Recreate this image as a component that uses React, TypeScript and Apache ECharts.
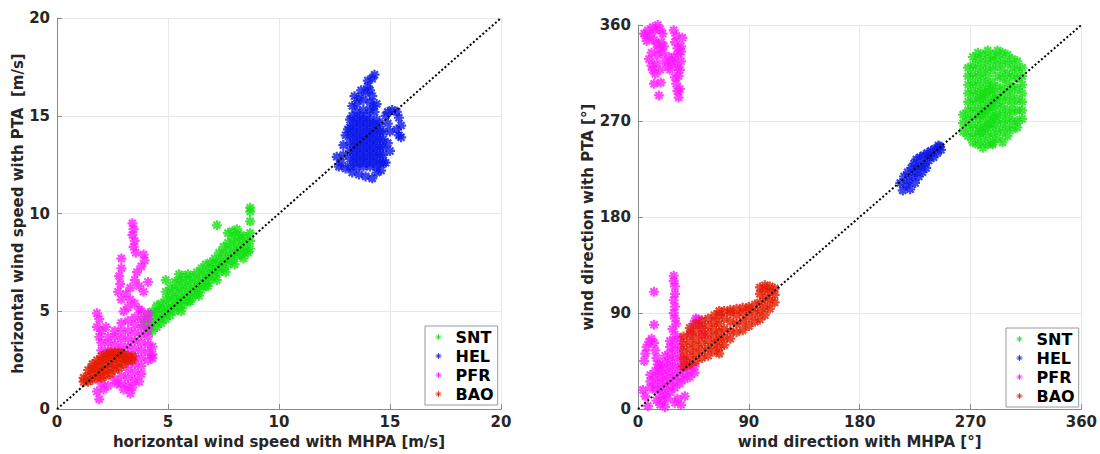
import React, { useEffect, useRef } from "react";
import * as echarts from "echarts";

const SERIES_NAMES = ["SNT", "HEL", "PFR", "BAO"];
const COLORS = ["#12e012", "#0a16e8", "#ff18ff", "#e41a00"];

const SPEED_TICKS = [0, 5, 10, 15, 20];
const DIR_TICKS = [0, 90, 180, 270, 360];

// ---- horizontal wind speed [m/s]: [MHPA, PTA]
const sntSpeed: number[][] = [
  [3.9, 4.3], [3.9, 4.6], [4.1, 4.0], [4.1, 4.4], [4.1, 4.8], [4.3, 4.0], [4.3, 4.4], [4.3, 4.8], [4.3, 5.0],
  [4.5, 4.2], [4.5, 4.6], [4.5, 5.0], [4.5, 5.3], [4.7, 4.4], [4.7, 4.7], [4.7, 5.1], [4.7, 5.4],
  [4.9, 4.6], [4.9, 4.9], [4.9, 5.2], [4.9, 5.6], [4.9, 6.0], [4.9, 6.6],
  [5.1, 4.8], [5.1, 5.1], [5.1, 5.4], [5.1, 5.8], [5.1, 6.2], [5.3, 5.0], [5.3, 5.3], [5.3, 5.7], [5.3, 6.1], [5.3, 6.5],
  [5.5, 5.2], [5.5, 5.5], [5.5, 5.8], [5.5, 6.2], [5.5, 6.6], [5.5, 6.9], [5.7, 5.3], [5.7, 5.6], [5.7, 6.0], [5.7, 6.4], [5.7, 6.8],
  [5.9, 5.5], [5.9, 5.8], [5.9, 6.2], [5.9, 6.6], [5.9, 6.9], [6.1, 5.7], [6.1, 6.0], [6.1, 6.4], [6.1, 6.8],
  [6.3, 5.9], [6.3, 6.2], [6.3, 6.6], [6.3, 7.0], [6.5, 6.1], [6.5, 6.4], [6.5, 6.8], [6.5, 7.2],
  [6.7, 6.3], [6.7, 6.6], [6.7, 7.0], [6.7, 7.4], [6.9, 6.6], [6.9, 6.9], [6.9, 7.2], [6.9, 7.5],
  [7.1, 6.8], [7.1, 7.1], [7.1, 7.4], [7.1, 7.7], [7.3, 7.0], [7.3, 7.3], [7.3, 7.6], [7.3, 8.0],
  [7.5, 7.2], [7.5, 7.5], [7.5, 7.9], [7.5, 8.3], [7.7, 7.4], [7.7, 7.7], [7.7, 8.1], [7.7, 8.5], [7.7, 9.0],
  [7.9, 7.6], [7.9, 7.9], [7.9, 8.3], [7.9, 8.7], [7.9, 9.1], [8.1, 7.8], [8.1, 8.1], [8.1, 8.5], [8.1, 8.9], [8.1, 9.2],
  [8.3, 7.9], [8.3, 8.2], [8.3, 8.6], [8.3, 8.9], [8.5, 8.1], [8.5, 8.4], [8.5, 8.8],
  [8.7, 8.2], [8.7, 8.6], [8.7, 9.0], [8.7, 9.6], [8.7, 10.1], [8.7, 10.3], [7.2, 9.4],
  [5.6, 5.0], [6.0, 5.5], [6.4, 5.8], [6.8, 6.3], [7.2, 6.6], [7.6, 7.0], [8.0, 7.4], [8.4, 7.7], [8.6, 8.0],
];
const helSpeed: number[][] = [
  [13.2, 12.4], [13.2, 12.8], [13.2, 13.2], [13.2, 13.6], [13.2, 14.0], [13.2, 14.4], [13.2, 14.8],
  [13.5, 12.4], [13.5, 12.8], [13.5, 13.2], [13.5, 13.6], [13.5, 14.0], [13.5, 14.4], [13.5, 14.8],
  [13.8, 12.4], [13.8, 12.8], [13.8, 13.2], [13.8, 13.6], [13.8, 14.0], [13.8, 14.4], [13.8, 14.8],
  [14.1, 12.4], [14.1, 12.8], [14.1, 13.2], [14.1, 13.6], [14.1, 14.0], [14.1, 14.4], [14.1, 14.8],
  [14.4, 12.4], [14.4, 12.8], [14.4, 13.2], [14.4, 13.6], [14.4, 14.0], [14.4, 14.4], [14.4, 14.8],
  [14.7, 12.6], [14.7, 13.0], [14.7, 13.4], [14.7, 13.8], [14.7, 14.2],
  [13.35, 12.6], [13.35, 13.4], [13.35, 14.2], [13.65, 13.0], [13.65, 13.8], [13.65, 14.6], [13.95, 12.6], [13.95, 13.4],
  [13.95, 14.2], [14.25, 13.0], [14.25, 13.8], [14.25, 14.6], [14.55, 12.6], [14.55, 13.4], [14.55, 14.2],
  [13.35, 13.0], [13.35, 13.8], [13.35, 14.6], [13.65, 12.6], [13.65, 13.4], [13.65, 14.2], [13.95, 13.0], [13.95, 13.8],
  [13.95, 14.6], [14.25, 12.6], [14.25, 13.4], [14.25, 14.2], [14.55, 13.0], [14.55, 13.8], [14.55, 14.6],
  [13.5, 15.2], [13.5, 15.6], [13.4, 16.0], [13.6, 15.9], [13.8, 15.3], [13.8, 15.8], [13.9, 16.2], [14.0, 16.5],
  [14.1, 15.3], [14.1, 15.7], [14.3, 15.2], [14.2, 16.0], [14.2, 16.9], [14.3, 17.1], [14.0, 16.8], [13.3, 15.0],
  [13.65, 15.0], [13.95, 15.0], [14.25, 15.5], [13.7, 16.3], [14.1, 16.3], [13.3, 15.5], [14.4, 15.6],
  [12.6, 12.9], [12.8, 12.6], [12.9, 13.0], [12.7, 12.4], [13.0, 12.3], [12.9, 13.5], [13.0, 14.0], [13.1, 14.3],
  [14.9, 15.2], [15.1, 15.3], [15.3, 15.2], [15.4, 14.9], [15.5, 14.5], [15.3, 14.3], [15.0, 14.2], [15.4, 14.0],
  [15.5, 13.9], [14.9, 13.6], [15.0, 13.2], [14.9, 14.6], [14.8, 15.0],
  [13.6, 12.0], [13.9, 11.9], [14.2, 11.8], [14.4, 12.1], [13.3, 12.1], [14.6, 12.2], [14.8, 12.6],
];
const pfrSpeed: number[][] = [
  [3.4, 9.5], [3.45, 9.2], [3.4, 8.9], [3.5, 8.6], [3.45, 8.3], [3.55, 8.0], [3.9, 7.9], [3.95, 7.6], [3.8, 7.3],
  [2.9, 7.7], [2.9, 7.2], [2.8, 6.8], [2.85, 6.4], [2.75, 6.0], [2.9, 5.6], [3.1, 5.9], [3.3, 6.2], [3.5, 6.6],
  [3.6, 7.0], [3.3, 5.6], [3.2, 5.2], [3.0, 5.0], [3.7, 6.3], [3.9, 6.0], [4.1, 6.5], [3.5, 5.4], [3.7, 5.1],
  [1.8, 4.9], [1.9, 4.6], [1.8, 4.2], [2.0, 4.0], [1.9, 3.7], [2.2, 4.2],
  [2.0, 1.3], [2.0, 3.0], [2.0, 3.4], [2.3, 1.2], [2.3, 3.0], [2.3, 3.4], [2.3, 3.7],
  [2.6, 1.5], [2.6, 2.9], [2.6, 3.3], [2.6, 3.7], [2.6, 4.0],
  [2.9, 1.3], [2.9, 1.7], [2.9, 2.9], [2.9, 3.2], [2.9, 3.6], [2.9, 4.0], [2.9, 4.4],
  [3.2, 1.2], [3.2, 1.6], [3.2, 2.0], [3.2, 2.4], [3.2, 2.8], [3.2, 3.2], [3.2, 3.6], [3.2, 4.0], [3.2, 4.5],
  [3.5, 1.5], [3.5, 1.9], [3.5, 2.3], [3.5, 2.7], [3.5, 3.1], [3.5, 3.5], [3.5, 3.9], [3.5, 4.3], [3.5, 4.7],
  [3.8, 1.8], [3.8, 2.2], [3.8, 2.6], [3.8, 3.0], [3.8, 3.4], [3.8, 3.8], [3.8, 4.2], [3.8, 4.6], [3.8, 5.0],
  [4.1, 2.5], [4.1, 2.9], [4.1, 3.3], [4.1, 3.7], [4.1, 4.1], [4.1, 4.6], [4.1, 4.9], [4.3, 2.6], [4.3, 2.8], [4.3, 3.2],
  [1.9, 0.5], [1.8, 0.9], [2.1, 1.0], [3.3, 0.8], [3.4, 1.1], [3.0, 1.0], [2.7, 1.3], [3.7, 1.4],
];
const baoSpeed: number[][] = [
  [1.2, 1.4], [1.2, 1.6], [1.4, 1.4], [1.4, 1.7], [1.4, 2.0], [1.6, 1.5], [1.6, 1.8], [1.6, 2.1], [1.6, 2.3],
  [1.8, 1.6], [1.8, 1.9], [1.8, 2.2], [1.8, 2.5], [2.0, 1.6], [2.0, 1.9], [2.0, 2.2], [2.0, 2.5], [2.0, 2.7],
  [2.2, 1.7], [2.2, 2.0], [2.2, 2.3], [2.2, 2.6], [2.2, 2.8], [2.4, 1.8], [2.4, 2.1], [2.4, 2.4], [2.4, 2.7], [2.4, 2.9],
  [2.6, 2.0], [2.6, 2.3], [2.6, 2.6], [2.6, 2.9], [2.8, 2.1], [2.8, 2.4], [2.8, 2.7], [2.8, 2.9],
  [3.0, 2.3], [3.0, 2.6], [3.0, 2.8], [3.2, 2.5], [3.2, 2.7], [3.4, 2.5], [3.4, 2.7],
];

// ---- wind direction [deg]: [MHPA, PTA]
const sntDir: number[][] = [
  [264, 260], [264, 268], [264, 276], [268, 256], [268, 264], [268, 272], [268, 280], [268, 288], [268, 296], [268, 304],
  [272, 250], [272, 258], [272, 266], [272, 274], [272, 282], [272, 290], [272, 298], [272, 306], [272, 314],
  [276, 248], [276, 256], [276, 264], [276, 272], [276, 280], [276, 288], [276, 296], [276, 304], [276, 312], [276, 320], [276, 328],
  [280, 252], [280, 260], [280, 268], [280, 276], [280, 284], [280, 292], [280, 300], [280, 308], [280, 316], [280, 324], [280, 332],
  [284, 256], [284, 264], [284, 272], [284, 280], [284, 288], [284, 296], [284, 304], [284, 312], [284, 320], [284, 328], [284, 336],
  [288, 248], [288, 258], [288, 266], [288, 274], [288, 282], [288, 290], [288, 298], [288, 306], [288, 318], [288, 326], [288, 332],
  [292, 262], [292, 270], [292, 278], [292, 286], [292, 294], [292, 302], [292, 312], [292, 322], [292, 330],
  [296, 268], [296, 276], [296, 284], [296, 292], [296, 300], [296, 310], [296, 318], [296, 326],
  [300, 264], [300, 272], [300, 280], [300, 290], [300, 298], [300, 306], [300, 314], [300, 324],
  [304, 270], [304, 278], [304, 286], [304, 294], [304, 302], [304, 312], [304, 320], [308, 280], [308, 290], [308, 300], [308, 310], [308, 318],
  [278, 260], [278, 276], [278, 292], [282, 264], [282, 280], [282, 296], [286, 268], [286, 284], [286, 300], [290, 274], [290, 290],
  [268, 312], [268, 320], [272, 322], [272, 330], [276, 334], [292, 336], [296, 334], [300, 332], [304, 328], [308, 326],
  [312, 320], [312, 312], [312, 304], [312, 296], [312, 288], [312, 280], [312, 272], [308, 270], [308, 264], [304, 262],
  [300, 256], [296, 260], [292, 254], [288, 250], [284, 248], [280, 245], [296, 250],
];
const helDir: number[][] = [
  [213, 212], [215, 205], [216, 218], [218, 210], [219, 222], [220, 214], [221, 206], [222, 226], [223, 218],
  [224, 230], [225, 222], [225, 212], [226, 234], [227, 226], [228, 218], [229, 236], [230, 228], [231, 222],
  [232, 238], [233, 230], [235, 240], [236, 233], [238, 242], [240, 236], [241, 244], [243, 240], [245, 246],
  [246, 243], [244, 247], [237, 237], [234, 226],
];
const pfrDir: number[][] = [
  [5, 352], [8, 355], [10, 350], [12, 358], [14, 355], [16, 360], [18, 356], [20, 352], [13, 346], [15, 342],
  [17, 338], [19, 344], [21, 340], [11, 334], [16, 332], [20, 334], [9, 328], [11, 322], [12, 318], [14, 314],
  [15, 324], [18, 318], [22, 326], [13, 305], [17, 294], [18.5, 306], [6, 350], [7, 345],
  [29, 355], [31, 350], [30, 344], [32, 338], [33, 333], [29, 330], [27, 326], [25, 330], [24, 322], [26, 318],
  [30, 325], [32, 320], [34, 318], [35, 326], [33, 312], [31, 305], [32, 298], [33, 292], [34, 300], [30, 311],
  [35, 340], [36, 348], [35, 335],
  [29, 125], [29, 120], [30, 115], [30, 108], [29, 102], [30, 96], [29, 90], [30, 85], [31, 80], [28, 75], [13, 110], [13, 79],
  [5, 45], [6, 52], [7, 58], [9, 63], [11, 66], [13, 62], [14, 55], [15, 48], [16, 42], [17, 38],
  [43, 72], [45, 80], [47, 85], [49, 84], [51, 78], [53, 70],
  [10, 20], [10, 26], [10, 32], [14, 18], [14, 24], [14, 30], [14, 36], [18, 12], [18, 18], [18, 24], [18, 30], [18, 36], [18, 42],
  [22, 14], [22, 20], [22, 26], [22, 32], [22, 38], [22, 44], [22, 50], [26, 16], [26, 22], [26, 28], [26, 34], [26, 40],
  [26, 46], [26, 52], [26, 58], [26, 64], [30, 20], [30, 26], [30, 32], [30, 40], [30, 48], [30, 56], [30, 64], [30, 70],
  [34, 24], [34, 30], [34, 36], [34, 42], [34, 50], [34, 58], [34, 66], [38, 28], [38, 34], [38, 40], [38, 46],
  [42, 30], [42, 36], [42, 42], [46, 34], [46, 40],
  [18, 4], [20, 8], [22, 2], [24, 10], [30, 6], [32, 10], [35, 4], [38, 12], [4, 18], [6, 12], [15, 8], [8, 3],
];
const baoDir: number[][] = [
  [37, 40], [37, 47], [37, 54], [37, 61], [37, 68], [42, 42], [42, 49], [42, 56], [42, 63], [42, 70], [42, 76],
  [47, 45], [47, 52], [47, 59], [47, 66], [47, 73], [47, 80], [52, 48], [52, 55], [52, 62], [52, 69], [52, 76], [52, 83],
  [57, 50], [57, 57], [57, 64], [57, 71], [57, 78], [57, 85], [62, 54], [62, 61], [62, 68], [62, 75], [62, 82], [62, 88],
  [66, 52], [66, 58], [66, 65], [66, 72], [66, 80], [66, 88], [66, 92], [70, 60], [70, 67], [70, 75], [70, 85], [70, 92],
  [75, 66], [75, 73], [75, 82], [75, 90], [75, 93], [80, 72], [80, 80], [80, 88], [80, 94], [85, 74], [85, 82], [85, 90], [85, 95],
  [90, 78], [90, 86], [90, 93], [90, 96], [95, 82], [95, 90], [95, 98], [99, 84], [99, 92], [99, 100], [99, 108], [99, 114],
  [103, 88], [103, 96], [103, 104], [103, 112], [103, 116], [107, 94], [107, 102], [107, 110], [107, 115], [111, 100], [111, 107], [111, 113],
];

const speedData = [sntSpeed, helSpeed, pfrSpeed, baoSpeed];
const dirData = [sntDir, helDir, pfrDir, baoDir];

const ASTERISK = "path://M4,0L4,8M0,4L8,4M1.2,1.2L6.8,6.8M6.8,1.2L1.2,6.8";
const FONT = "DejaVu Sans";
const TXT = "#262626";

function axisBase(extra: any, margin: number) {
  return {
    type: "value",
    nameLocation: "middle",
    nameTextStyle: { fontFamily: FONT, fontWeight: "bold", fontSize: 15, color: TXT },
    axisLine: { show: true, lineStyle: { color: "#8a8a8a", width: 1 } },
    axisTick: { show: true, inside: true, length: 5, lineStyle: { color: "#8a8a8a" } },
    axisLabel: { fontFamily: FONT, fontWeight: "bold", fontSize: 15, color: TXT, margin },
    splitLine: { show: true, lineStyle: { color: "#e8e8e8", width: 1 } },
    ...extra,
  };
}

function legendAt(left: number, top: number) {
  return {
    orient: "vertical",
    left,
    top,
    data: SERIES_NAMES,
    selectedMode: false,
    icon: ASTERISK,
    backgroundColor: "#ffffff",
    borderColor: "#9a9a9a",
    borderWidth: 1,
    borderRadius: 0,
    padding: [3, 4, 3, 10],
    itemWidth: 6,
    itemHeight: 6,
    itemGap: 3,
    itemStyle: { borderWidth: 1 },
    textStyle: { fontFamily: FONT, fontWeight: "bold", fontSize: 16, color: "#000", padding: [0, 0, 0, 9] },
  };
}

export default function App() {
  const ref = useRef<HTMLDivElement>(null);
  useEffect(() => {
    if (!ref.current) return;
    const chart = echarts.init(ref.current, undefined, { renderer: "svg" });
    const series: any[] = [];
    [speedData, dirData].forEach((panel, gi) => {
      panel.forEach((pts, si) => {
        series.push({
          name: SERIES_NAMES[si],
          type: "scatter",
          xAxisIndex: gi,
          yAxisIndex: gi,
          data: pts,
          symbol: ASTERISK,
          symbolSize: 10,
          itemStyle: { color: COLORS[si], borderColor: COLORS[si], borderWidth: 2.2 },
          z: 2 + si,
        });
      });
      const mx = gi === 0 ? SPEED_TICKS[SPEED_TICKS.length - 1] : DIR_TICKS[DIR_TICKS.length - 1];
      series.push({
        type: "line",
        xAxisIndex: gi,
        yAxisIndex: gi,
        data: [[0, 0], [mx, mx]],
        showSymbol: false,
        silent: true,
        lineStyle: { color: "#000", width: 2, type: [2, 2.2] },
        z: 10,
      });
    });
    chart.setOption({
      animation: false,
      backgroundColor: "#ffffff",
      grid: [
        { left: 57, top: 18, width: 444, height: 394 },
        { left: 638, top: 25, width: 444, height: 387 },
      ],
      xAxis: [
        axisBase({ gridIndex: 0, min: SPEED_TICKS[0], max: 20, interval: 5, name: "horizontal wind speed with MHPA [m/s]", nameGap: 22 }, 5),
        axisBase({ gridIndex: 1, min: DIR_TICKS[0], max: 360, interval: 90, name: "wind direction with MHPA [°]", nameGap: 22 }, 5),
      ],
      yAxis: [
        axisBase({ gridIndex: 0, min: SPEED_TICKS[0], max: 20, interval: 5, name: "horizontal wind speed with PTA  [m/s]", nameGap: 30 }, 7),
        axisBase({ gridIndex: 1, min: DIR_TICKS[0], max: 360, interval: 90, name: "wind direction with PTA [°]", nameGap: 39 }, 7),
      ],
      legend: [legendAt(425, 326), legendAt(1006, 328)],
      series,
    });
    return () => chart.dispose();
  }, []);
  return <div ref={ref} style={{ position: "absolute", left: 0, top: 0, width: 1100, height: 454 }} />;
}
